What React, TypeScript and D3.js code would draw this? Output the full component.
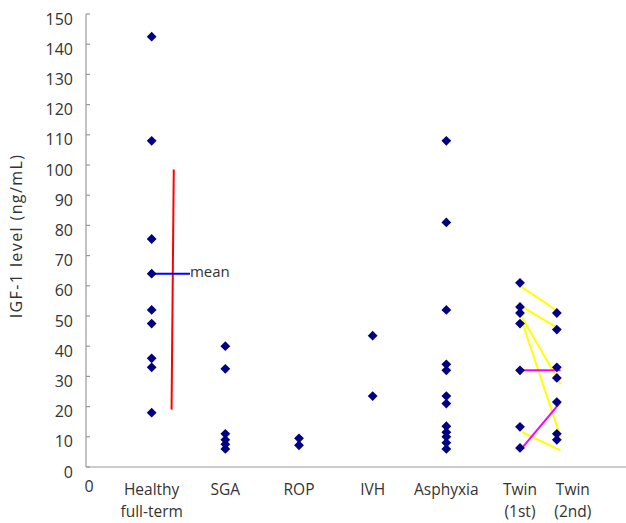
import * as d3 from "d3";

// categories and their x positions (twin 2nd sits half a step right of twin 1st)
const categoryLabels = [
  ["Healthy", "full-term"],
  ["SGA"],
  ["ROP"],
  ["IVH"],
  ["Asphyxia"],
  ["Twin", "(1st)"],
  ["Twin", "(2nd)"],
];
const categoryPos = [1, 2, 3, 4, 5, 6, 6.5];

// IGF-1 values (ng/mL) per group
const healthy = [142.5, 108, 75.5, 64, 52, 47.5, 36, 33, 18];
const sga = [40, 32.5, 11, 9, 7.5, 6];
const rop = [9.5, 7.2];
const ivh = [43.5, 23.5];
const asphyxia = [108, 81, 52, 34, 32, 23.5, 21, 13.5, 11.5, 10, 8, 6];
const twin1 = [61, 53, 51, 47.5, 32, 13.3, 6.3];
const twin2 = [51, 45.5, 33, 29.5, 21.5, 11, 9];

const groups = [healthy, sga, rop, ivh, asphyxia, twin1, twin2];

// healthy group: mean marker and spread line
const healthyMean = 64;
const healthySpread = [19, 98.5];

// twin pair links [1st, 2nd]
const yellowLinks = [
  [59.5, 51],
  [53, 45.5],
  [49.5, 27.5],
  [48, 10],
  [11.5, 5.5],
];
const magentaLinks = [
  [32, 32],
  [5.5, 21.5],
];

const yTicks = d3.range(0, 151, 10);

const W = 626;
const H = 523;
const font = "'Open Sans', sans-serif";

export default function App() {
  const x = d3.scaleLinear().domain([0, 6]).range([78, 520]);
  const y = d3.scaleLinear().domain([0, 150]).range([467, 14]);
  const axisX = 86;
  const diamond = d3.symbol(d3.symbolSquare, 48)();

  return (
    <svg
      width={W}
      height={H}
      style={{ position: "absolute", left: 0, top: 0, background: "#fff" }}
      fontFamily={font}
    >
      {/* y axis */}
      <line x1={axisX} x2={axisX} y1={y(0)} y2={y(150)} stroke="#999" strokeWidth={1.2} />
      {yTicks.map((t) => (
        <g key={t}>
          <line x1={axisX} x2={axisX + 4} y1={y(t)} y2={y(t)} stroke="#999" strokeWidth={1.2} />
          <text x={73} y={y(t) + 5} dy="0.35em" textAnchor="end" fontSize={16} fill="#333">
            {t}
          </text>
        </g>
      ))}
      <text
        transform={`translate(16,236) rotate(-90)`}
        textAnchor="middle"
        dy="0.35em"
        fontSize={16}
        letterSpacing={1.4}
        fill="#333"
      >
        IGF-1 level (ng/mL)
      </text>

      {/* x axis */}
      <line x1={axisX} x2={W} y1={y(0)} y2={y(0)} stroke="#999" strokeWidth={1.2} />
      <text x={axisX + 3} y={492} textAnchor="middle" fontSize={16} fill="#333">
        0
      </text>
      {categoryLabels.map((lines, i) => {
        const lx = x(categoryPos[i]) + (i === 6 ? 16 : 0);
        return (
          <text key={i} x={lx} y={495} textAnchor="middle" fontSize={15.5} fill="#333">
            {lines.map((l, j) => (
              <tspan key={j} x={lx} dy={j === 0 ? 0 : 22}>
                {l}
              </tspan>
            ))}
          </text>
        );
      })}

      {/* healthy spread + mean */}
      <line
        x1={x(1.3)}
        x2={x(1.27)}
        y1={y(healthySpread[1])}
        y2={y(healthySpread[0])}
        stroke="#ff0000"
        strokeWidth={2}
      />
      <line
        x1={x(1)}
        x2={x(1.52)}
        y1={y(healthyMean)}
        y2={y(healthyMean)}
        stroke="#0000ff"
        strokeWidth={2}
      />
      <text x={x(1.52)} y={y(healthyMean) + 3} fontSize={15} fill="#333">
        mean
      </text>

      {/* twin links */}
      {yellowLinks.map((d, i) => (
        <line
          key={"y" + i}
          x1={x(6.03)}
          x2={x(6.55)}
          y1={y(d[0])}
          y2={y(d[1])}
          stroke="#ffff00"
          strokeWidth={2}
        />
      ))}
      {magentaLinks.map((d, i) => (
        <line
          key={"m" + i}
          x1={x(6)}
          x2={x(6.55)}
          y1={y(d[0])}
          y2={y(d[1])}
          stroke="#ff00ff"
          strokeWidth={2}
        />
      ))}

      {/* points */}
      {groups.map((vals, i) =>
        vals.map((v, j) => (
          <path
            key={i + "-" + j}
            d={diamond ?? ""}
            transform={`translate(${x(categoryPos[i])},${y(v)}) rotate(45)`}
            fill="#000080"
          />
        ))
      )}
    </svg>
  );
}
